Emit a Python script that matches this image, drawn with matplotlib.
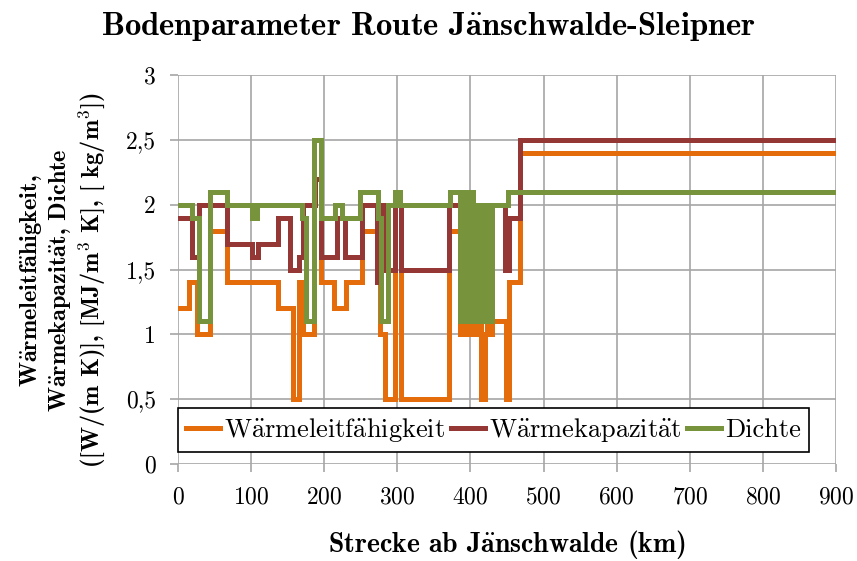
import numpy as np
import matplotlib
matplotlib.use("Agg")
import matplotlib.pyplot as plt
from matplotlib.ticker import FuncFormatter

plt.rcParams['font.family'] = ['cmr10', 'DejaVu Serif']
plt.rcParams['mathtext.fontset'] = 'cm'
plt.rcParams['axes.formatter.use_mathtext'] = True

# umlaut via mathtext accent, cmr10/cmb10 have no precomposed glyph
AE = r'$\ddot{\mathrm{a}}$'
AE_B = r'$\ddot{\mathbf{a}}$'

# Streckenabschnitte (km) und Werte, jeweils ab Abschnittsbeginn gueltig
km_lambda = [0, 15, 26, 44, 67, 137, 157, 165, 171, 186, 196, 213, 230, 251, 272, 276,
             283, 297, 305, 370, 386, 389, 392, 395, 398, 401, 404, 408, 414, 420, 423,
             426, 429, 448, 453, 468, 900]
lam = [1.2, 1.4, 1.0, 1.8, 1.4, 1.2, 0.5, 1.4, 1.0, 2.2, 1.4, 1.2, 1.4, 1.8, 1.4, 1.0,
       0.5, 2.0, 0.5, 1.8, 1.0, 1.8, 1.0, 1.8, 1.0, 1.8, 1.0, 1.8, 0.5, 1.0, 1.8,
       1.0, 1.1, 0.5, 1.4, 2.4, 2.4]

km_cap = [0, 19, 29, 67, 101, 109, 137, 153, 166, 171, 187, 196, 217, 229, 251, 272,
          276, 283, 297, 305, 370, 413, 416, 447, 453, 468, 900]
cap = [1.9, 1.6, 2.0, 1.7, 1.6, 1.7, 1.9, 1.5, 1.6, 2.0, 2.2, 1.6, 1.9, 1.6, 2.0, 1.4,
       2.0, 1.5, 2.0, 1.5, 2.0, 1.5, 2.0, 1.5, 1.9, 2.5, 2.5]

km_rho = [0, 19, 29, 44, 67, 101, 108, 169, 175, 186, 196, 215, 224, 249, 274, 278,
          287, 297, 304, 372, 386, 389, 392, 395, 398, 401, 404, 408, 413, 416, 420,
          423, 426, 429, 451, 900]
rho = [2.0, 1.9, 1.1, 2.1, 2.0, 1.9, 2.0, 1.9, 1.1, 2.5, 1.9, 2.0, 1.9, 2.1, 1.9, 1.1,
       2.0, 2.1, 2.0, 2.1, 1.1, 2.1, 1.1, 2.1, 1.1, 2.1, 1.1, 2.0, 1.1, 2.0, 1.1,
       2.0, 1.1, 2.0, 2.1, 2.1]

series = [
    (km_lambda, lam, f'W{AE}rmeleitf{AE}higkeit', '#e46c0a'),
    (km_cap, cap, f'W{AE}rmekapazit{AE}t', '#953735'),
    (km_rho, rho, 'Dichte', '#77933c'),
]

fig = plt.figure(figsize=(8.57, 5.61), dpi=100)
ax = fig.add_axes([0.2077, 0.1729, 0.7678, 0.6934])

for x, y, name, col in series:
    ax.step(x, y, where='post', color=col, lw=3.6, label=name,
            solid_joinstyle='miter')

ax.set_xlim(0, 900)
ax.set_ylim(0, 3)
ax.set_xticks(np.arange(0, 901, 100))
ax.set_yticks(np.arange(0, 3.01, 0.5))
ax.yaxis.set_major_formatter(FuncFormatter(lambda v, p: ('%g' % v).replace('.', ',')))

grid_col = '#a6a6a6'
ax.grid(True, color=grid_col, lw=1.2)
ax.set_axisbelow(True)
for s in ax.spines.values():
    s.set_visible(False)
ax.tick_params(axis='both', direction='out', length=6, width=1.2, color=grid_col,
               labelsize=17)
ax.tick_params(axis='x', pad=10)
ax.tick_params(axis='y', pad=10)

bold = ['cmb10', 'DejaVu Serif']
fig.text(0.5, 0.952, f'Bodenparameter Route J{AE_B}nschwalde-Sleipner', family=bold,
         fontsize=23.5, ha='center', va='center')
ax.set_xlabel(f'Strecke ab J{AE_B}nschwalde (km)', family=bold, fontsize=20,
              labelpad=14)
ax.set_ylabel(f'W{AE_B}rmeleitf{AE_B}higkeit,\nW{AE_B}rmekapazit{AE_B}t, Dichte\n'
              r'([W/(m K)], [MJ/m$^{\mathbf{3}}$ K], [ kg/m$^{\mathbf{3}}$])',
              family=bold, fontsize=17.5, linespacing=1.15, ha='center', va='center')
ax.yaxis.set_label_coords(-0.176, 0.472)

leg = ax.legend(loc='lower left', bbox_to_anchor=(0.0, 0.03), ncol=3, fontsize=19,
                frameon=True, fancybox=False, framealpha=1, edgecolor='black',
                handlelength=1.3, handletextpad=0.15, columnspacing=0.2,
                borderaxespad=0, borderpad=0.3)
leg.get_frame().set_linewidth(1.2)

fig.savefig('out.png', dpi=100)
